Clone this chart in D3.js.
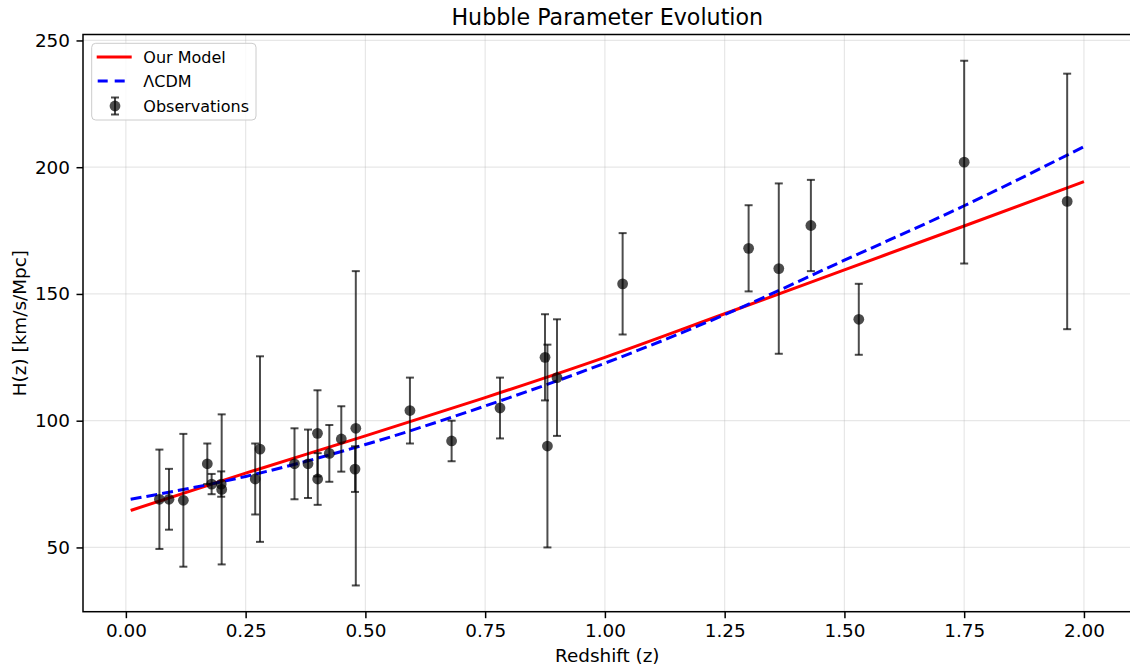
<!DOCTYPE html>
<html>
<head>
<meta charset="utf-8">
<title>Hubble Parameter Evolution</title>
<script src="https://d3js.org/d3.v7.min.js"></script>
<style>
  body { margin: 0; background: #fff; }
  text { font-family: "DejaVu Sans", sans-serif; }
</style>
</head>
<body>
<div id="chart"></div>
<script>
// observations: redshift, H(z), 1-sigma error
var obsZ   = [0.07, 0.09, 0.12, 0.17, 0.179, 0.199, 0.2, 0.27, 0.28, 0.352, 0.3802, 0.4, 0.4004, 0.4247, 0.4497,
              0.4783, 0.48, 0.593, 0.68, 0.781, 0.875, 0.88, 0.9, 1.037, 1.3, 1.363, 1.43, 1.53, 1.75, 1.965];
var obsH   = [69, 69, 68.6, 83, 75, 75, 72.9, 77, 88.8, 83, 83, 95, 77, 87.1, 92.8,
              80.9, 97, 104, 92, 105, 125, 90, 117, 154, 168, 160, 177, 140, 202, 186.5];
var obsErr = [19.6, 12, 26.2, 8, 4, 5, 29.6, 14, 36.6, 14, 13.5, 17, 10.2, 11.2, 12.9,
              9, 62, 13, 8, 12, 17, 40, 23, 20, 17, 33.6, 18, 14, 40, 50.4];

// model curves
var curveZ = [0.01, 0.25, 0.5, 0.75, 1.0, 1.25, 1.5, 1.75, 2.0];
var modelH = [64.6, 79.3, 94.0, 109.1, 125.0, 142.2, 159.5, 176.8, 194.3];
var lcdmH  = [69.0, 78.0, 90.6, 105.8, 122.7, 141.8, 163.3, 184.8, 208.1];

var xTicks = [0, 0.25, 0.5, 0.75, 1.0, 1.25, 1.5, 1.75, 2.0];
var yTicks = [50, 100, 150, 200, 250];

var W = 1130, H = 666;
var plot = {left: 83, right: 1131.6, top: 34.5, bottom: 611.7};

var svg = d3.select("#chart").append("svg")
    .attr("width", W).attr("height", H);

var x = d3.scaleLinear().domain([-0.0895, 2.0995]).range([plot.left, plot.right]);
var y = d3.scaleLinear().domain([24.65, 252.35]).range([plot.bottom, plot.top]);

// grid
svg.append("g").selectAll("line").data(xTicks).enter().append("line")
    .attr("x1", function(d) { return x(d); }).attr("x2", function(d) { return x(d); })
    .attr("y1", plot.top).attr("y2", plot.bottom)
    .attr("stroke", "#b0b0b0").attr("stroke-opacity", 0.3).attr("stroke-width", 1.2);
svg.append("g").selectAll("line").data(yTicks).enter().append("line")
    .attr("y1", function(d) { return y(d); }).attr("y2", function(d) { return y(d); })
    .attr("x1", plot.left).attr("x2", plot.right)
    .attr("stroke", "#b0b0b0").attr("stroke-opacity", 0.3).attr("stroke-width", 1.2);

// model lines
var line = d3.line().curve(d3.curveMonotoneX);
svg.append("path")
    .attr("d", line(curveZ.map(function(z, i) { return [x(z), y(modelH[i])]; })))
    .attr("fill", "none").attr("stroke", "#ff0000").attr("stroke-width", 3);
svg.append("path")
    .attr("d", line(curveZ.map(function(z, i) { return [x(z), y(lcdmH[i])]; })))
    .attr("fill", "none").attr("stroke", "#0000ff").attr("stroke-width", 3)
    .attr("stroke-dasharray", "11,5");

// error bars + points
var obs = obsZ.map(function(z, i) { return {z: z, h: obsH[i], e: obsErr[i]}; });
var eb = svg.append("g").attr("stroke", "#000").attr("stroke-opacity", 0.7).attr("stroke-width", 2);
eb.selectAll(".bar").data(obs).enter().append("line")
    .attr("x1", function(d) { return x(d.z); }).attr("x2", function(d) { return x(d.z); })
    .attr("y1", function(d) { return y(d.h - d.e); }).attr("y2", function(d) { return y(d.h + d.e); });
eb.selectAll(".capLo").data(obs).enter().append("line")
    .attr("x1", function(d) { return x(d.z) - 4; }).attr("x2", function(d) { return x(d.z) + 4; })
    .attr("y1", function(d) { return y(d.h - d.e); }).attr("y2", function(d) { return y(d.h - d.e); });
eb.selectAll(".capHi").data(obs).enter().append("line")
    .attr("x1", function(d) { return x(d.z) - 4; }).attr("x2", function(d) { return x(d.z) + 4; })
    .attr("y1", function(d) { return y(d.h + d.e); }).attr("y2", function(d) { return y(d.h + d.e); });
svg.append("g").selectAll("circle").data(obs).enter().append("circle")
    .attr("cx", function(d) { return x(d.z); })
    .attr("cy", function(d) { return y(d.h); })
    .attr("r", 5.4)
    .attr("fill", "#000").attr("fill-opacity", 0.7);

// axes
var xAxis = svg.append("g")
    .attr("transform", "translate(0," + plot.bottom + ")")
    .call(d3.axisBottom(x).tickValues(xTicks).tickFormat(d3.format(".2f")).tickSize(6.5).tickPadding(5.5));
var yAxis = svg.append("g")
    .attr("transform", "translate(" + plot.left + ",0)")
    .call(d3.axisLeft(y).tickValues(yTicks).tickFormat(d3.format("d")).tickSize(6.5).tickPadding(6.5));
[xAxis, yAxis].forEach(function(a) {
    a.select(".domain").remove();
    a.selectAll(".tick line").attr("stroke", "#000").attr("stroke-width", 1.5);
    a.selectAll(".tick text").attr("fill", "#000")
        .style("font-size", "18.4px").style("font-family", "'DejaVu Sans', sans-serif");
});

// frame
svg.append("rect")
    .attr("x", plot.left).attr("y", plot.top)
    .attr("width", plot.right - plot.left).attr("height", plot.bottom - plot.top)
    .attr("fill", "none").attr("stroke", "#000").attr("stroke-width", 1.5);

// labels
var cx = (plot.left + plot.right) / 2;
svg.append("text").attr("x", cx).attr("y", 25)
    .attr("text-anchor", "middle").style("font-size", "22.2px")
    .text("Hubble Parameter Evolution");
svg.append("text").attr("x", cx).attr("y", 661.5)
    .attr("text-anchor", "middle").style("font-size", "18.4px")
    .text("Redshift (z)");
svg.append("text")
    .attr("transform", "translate(25.5," + ((plot.top + plot.bottom) / 2) + ") rotate(-90)")
    .attr("text-anchor", "middle").style("font-size", "18.4px")
    .text("H(z) [km/s/Mpc]");

// legend
var lg = svg.append("g");
lg.append("rect")
    .attr("x", 91.7).attr("y", 43.3).attr("width", 164.3).attr("height", 76.7).attr("rx", 4)
    .attr("fill", "#fff").attr("fill-opacity", 0.8).attr("stroke", "#cccccc").attr("stroke-width", 1);
lg.append("line").attr("x1", 96.7).attr("x2", 131.7).attr("y1", 57).attr("y2", 57)
    .attr("stroke", "#ff0000").attr("stroke-width", 3);
lg.append("line").attr("x1", 97.7).attr("x2", 131.7).attr("y1", 81).attr("y2", 81)
    .attr("stroke", "#0000ff").attr("stroke-width", 3).attr("stroke-dasharray", "10,7");
var le = lg.append("g").attr("stroke", "#000").attr("stroke-opacity", 0.7).attr("stroke-width", 2);
le.append("line").attr("x1", 115).attr("x2", 115).attr("y1", 97.5).attr("y2", 114.5);
le.append("line").attr("x1", 111).attr("x2", 119).attr("y1", 97.5).attr("y2", 97.5);
le.append("line").attr("x1", 111).attr("x2", 119).attr("y1", 114.5).attr("y2", 114.5);
lg.append("circle").attr("cx", 115).attr("cy", 106).attr("r", 5.4)
    .attr("fill", "#000").attr("fill-opacity", 0.7);
var legendLabels = ["Our Model", "\u039BCDM", "Observations"];
lg.selectAll(".lt").data(legendLabels).enter().append("text")
    .attr("x", 143.3).attr("y", function(d, i) { return 57 + i * 24.5; })
    .attr("dy", "0.36em").style("font-size", "16px")
    .text(function(d) { return d; });
</script>
</body>
</html>
